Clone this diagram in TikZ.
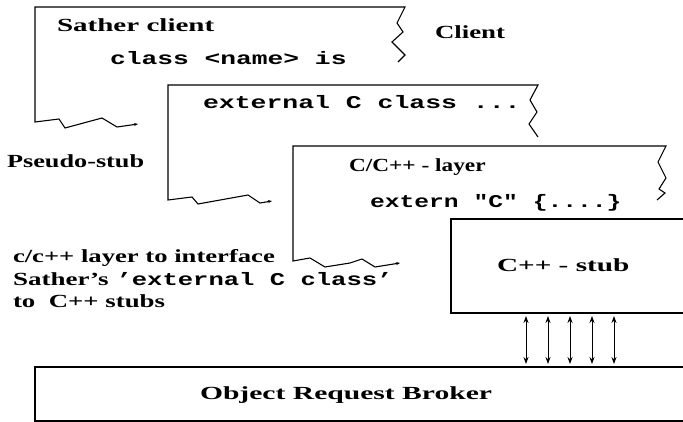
\documentclass[tikz,border=0pt]{standalone}
\usepackage{fontspec}
\usepackage{graphicx}
\setmainfont{Liberation Serif}
\setmonofont{Liberation Mono}
\usetikzlibrary{arrows.meta}
\newcommand\sxs[2]{\scalebox{#1}[1]{#2}}
\begin{document}
\begin{tikzpicture}[x=1pt,y=-1pt,
  frame/.style={line width=1.1pt, line join=miter, {Stealth[length=4pt,width=3pt]}-},
  box/.style={draw, line width=1.1pt, inner sep=0pt, outer sep=0pt},
  lab/.style={anchor=base west, inner sep=0pt, outer sep=0pt, font=\fontsize{18.5}{20}\selectfont\bfseries},
  mlab/.style={anchor=base west, inner sep=0pt, outer sep=0pt, font=\fontsize{18}{20}\selectfont\ttfamily\bfseries},
  bi/.style={{Stealth[length=7pt,width=5pt]}-{Stealth[length=7pt,width=5pt]}, line width=1pt, shorten <=3pt, shorten >=3pt}]
\clip (0,0) rectangle (683,422);
\fill[white] (0,0) rectangle (683,422);
% frame 1: Sather client
\draw[frame] (138,124) -- (117,127) -- (102,118) -- (65,128) -- (59,119) -- (35,122)
  -- (35,7) -- (405,7) -- (397,23) -- (403,32) -- (392,42) -- (405,55) -- (398,62);
% frame 2: pseudo-stub
\draw[frame] (272,201) -- (260,203) -- (248,195) -- (198,204) -- (192,197) -- (168,200)
  -- (168,85) -- (538,85) -- (530,100) -- (537,112) -- (529,124) -- (538,137);
% frame 3: C/C++ layer
\draw[frame] (400,263) -- (375,267) -- (362,259) -- (350,263) -- (325,267) -- (310,258) -- (293,261)
  -- (293,146) -- (666,146) -- (658,162) -- (666,178) -- (659,189) -- (665,193) -- (657,200);
% boxes
\node[box, anchor=north west, minimum width=240pt, minimum height=94pt] (stub) at (451,219) {};
\node[box, anchor=north west, minimum width=660pt, minimum height=54pt] (orb) at (35,367) {};
% texts
\node[lab] (t1) at (57,32) {\sxs{1.57}{Sather client}};
\node[mlab] (t2) at (110,65) {\sxs{1.46}{class <name> is}};
\node[lab] (t3) at (435,39) {\sxs{1.45}{Client}};
\node[mlab] (t4) at (203,109) {\sxs{1.47}{external C class ...}};
\node[lab] (t5) at (7,168) {\sxs{1.42}{Pseudo-stub}};
\node[lab] (t6) at (349,172) {\sxs{1.26}{C/C++ - layer}};
\node[mlab] (t7) at (370,208) {\sxs{1.37}{extern "C"  \{....\}}};
\node[lab] (t8) at (13,263) {\sxs{1.44}{c/c++ layer to interface}};
\node[lab] (t9) at (13,285) {\sxs{1.46}{Sather’s}\hspace{8pt}\sxs{1.42}{\fontsize{18}{20}\selectfont\ttfamily ’external C class’}};
\node[lab] (t10) at (13,307) {\sxs{1.45}{to\ \ C++ stubs}};
\node[lab] (t11) at (497,272) {\sxs{1.58}{C++ - stub}};
\node[lab] (t12) at (200,399) {\sxs{1.6}{Object Request Broker}};
% arrows between stub and ORB
\foreach \dx [count=\i] in {75,97,119,141,163} {
  \coordinate (a\i) at ([xshift=\dx pt]stub.south west);
  \draw[bi] (a\i) -- (a\i |- orb.north);
}
\end{tikzpicture}
\end{document}
